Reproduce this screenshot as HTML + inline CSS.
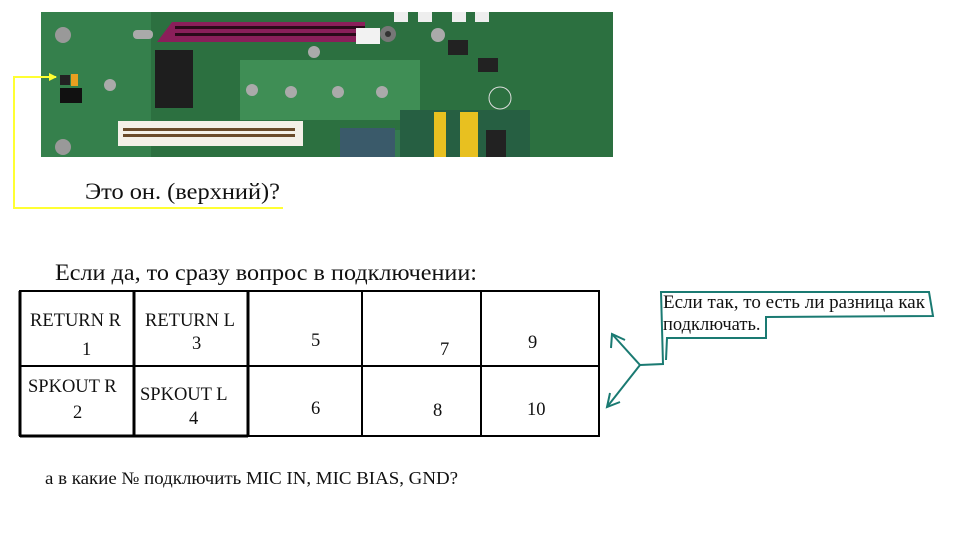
<!DOCTYPE html>
<html><head><meta charset="utf-8"><style>
body{margin:0;background:#fff;width:963px;height:542px;overflow:hidden}
svg{display:block}
text{font-family:"Liberation Serif","Noto Serif CJK SC",serif;fill:#111}
</style></head><body>
<svg width="963" height="542" viewBox="0 0 963 542">
<rect x="41" y="12" width="572" height="145" fill="#2c7040"/>
<rect x="41" y="12" width="110" height="145" fill="#35804c"/>
<rect x="240" y="60" width="180" height="60" fill="#3f8e55"/>
<rect x="400" y="110" width="130" height="47" fill="#265f42"/>
<rect x="340" y="130" width="60" height="27" fill="#347a50"/>
<circle cx="63" cy="35" r="8" fill="#999"/><circle cx="63" cy="147" r="8" fill="#999"/>
<polygon points="172,22 365,22 365,42 157,42" fill="#8a1f5a"/>
<rect x="175" y="26" width="190" height="3" fill="#2a0a1a"/>
<rect x="175" y="33" width="190" height="3" fill="#2a0a1a"/>
<rect x="356" y="28" width="24" height="16" fill="#f2f2f2"/>
<rect x="394" y="12" width="14" height="10" fill="#eee"/><rect x="418" y="12" width="14" height="10" fill="#eee"/>
<rect x="452" y="12" width="14" height="10" fill="#eee"/><rect x="475" y="12" width="14" height="10" fill="#eee"/>
<circle cx="388" cy="34" r="8" fill="#777"/><circle cx="388" cy="34" r="3" fill="#333"/>
<rect x="133" y="30" width="20" height="9" rx="4" fill="#aaa"/>
<rect x="155" y="50" width="38" height="58" fill="#1e1e1e"/>
<rect x="118" y="121" width="185" height="25" fill="#f4f0e8"/>
<rect x="123" y="128" width="172" height="3" fill="#6a4a2a"/>
<rect x="123" y="134" width="172" height="3" fill="#6a4a2a"/>
<rect x="340" y="128" width="55" height="29" fill="#3a5a6a"/>
<rect x="434" y="112" width="12" height="45" fill="#e8c020"/>
<rect x="460" y="112" width="18" height="45" fill="#e8c020"/>
<rect x="486" y="130" width="20" height="27" fill="#222"/>
<circle cx="110" cy="85" r="6" fill="#aaa"/><circle cx="252" cy="90" r="6" fill="#aaa"/>
<circle cx="291" cy="92" r="6" fill="#aaa"/><circle cx="338" cy="92" r="6" fill="#aaa"/>
<circle cx="382" cy="92" r="6" fill="#aaa"/><circle cx="314" cy="52" r="6" fill="#aaa"/>
<circle cx="438" cy="35" r="7" fill="#aaa"/>
<rect x="448" y="40" width="20" height="15" fill="#222"/><rect x="478" y="58" width="20" height="14" fill="#222"/>
<circle cx="500" cy="98" r="11" fill="none" stroke="#ddd" stroke-width="1"/>
<rect x="60" y="75" width="10" height="10" fill="#222"/>
<rect x="71" y="74" width="7" height="12" fill="#e8a020"/>
<rect x="60" y="88" width="22" height="15" fill="#111"/>
<polyline points="56,77 14,77 14,208 283,208" fill="none" stroke="#ffff33" stroke-width="2"/>
<polygon points="57,77 49,73 49,81" fill="#ffff33"/>
<text x="85" y="199" font-size="23" textLength="195" lengthAdjust="spacingAndGlyphs">Это он. (верхний)?</text>
<text x="55" y="280" font-size="23" textLength="422" lengthAdjust="spacingAndGlyphs">Если да, то сразу вопрос в подключении:</text>
<g stroke="#000" stroke-width="2" fill="none">
<rect x="20" y="291" width="579" height="145"/>
<line x1="134" y1="291" x2="134" y2="436" stroke-width="3"/>
<line x1="248" y1="291" x2="248" y2="436" stroke-width="3"/>
<line x1="362" y1="291" x2="362" y2="436"/>
<line x1="481" y1="291" x2="481" y2="436"/>
<line x1="20" y1="366" x2="599" y2="366"/>
<line x1="20" y1="436" x2="248" y2="436" stroke-width="3"/>
<line x1="20" y1="291" x2="20" y2="436" stroke-width="3"/>
</g>
<g font-size="18.5">
<text x="30" y="326">RETURN R</text><text x="82" y="355">1</text>
<text x="145" y="326">RETURN L</text><text x="192" y="349">3</text>
<text x="311" y="346">5</text><text x="440" y="355">7</text><text x="528" y="348">9</text>
<text x="28" y="392">SPKOUT R</text><text x="73" y="418">2</text>
<text x="140" y="400">SPKOUT L</text><text x="189" y="424">4</text>
<text x="311" y="414">6</text><text x="433" y="416">8</text><text x="527" y="415">10</text>
</g>
<text x="45" y="484" font-size="17.5" textLength="413" lengthAdjust="spacingAndGlyphs">а в какие № подключить MIC IN, MIC BIAS, GND?</text>
<polyline points="640,365 663,364 661,292 929,292 933,316 766,317 766,338 667,338 666,360" fill="none" stroke="#1a7a72" stroke-width="2"/>
<g stroke="#1a7a72" stroke-width="2" fill="none">
<line x1="640" y1="365" x2="612" y2="334"/><polyline points="611,348 612,334 625,340"/>
<line x1="640" y1="365" x2="607" y2="407"/><polyline points="610,393 607,407 620,402"/>
</g>
<text x="663" y="308" font-size="18.5" textLength="262" lengthAdjust="spacingAndGlyphs">Если так, то есть ли разница как</text>
<text x="663" y="330" font-size="18.5">подключать.</text>
</svg>
</body></html>
